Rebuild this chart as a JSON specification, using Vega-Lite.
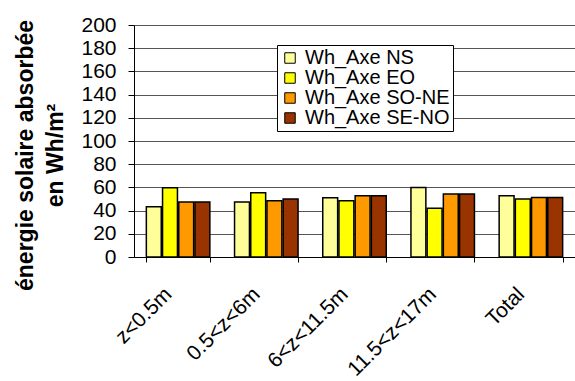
{
  "$schema": "https://vega.github.io/schema/vega-lite/v6.json",
  "width": 441,
  "height": 232,
  "autosize": {"type": "none"},
  "padding": {"left": 134, "top": 25, "right": 0, "bottom": 124},
  "background": "white",
  "config": {
    "font": "Liberation Sans",
    "view": {"stroke": null},
    "axis": {"labelColor": "black", "titleColor": "black", "domainColor": "black", "tickColor": "black"}
  },
  "data": {
    "values": [
      {"zone": "z<0.5m", "serie": "Wh_Axe NS", "value": 43.4},
      {"zone": "z<0.5m", "serie": "Wh_Axe EO", "value": 59.7},
      {"zone": "z<0.5m", "serie": "Wh_Axe SO-NE", "value": 47.4},
      {"zone": "z<0.5m", "serie": "Wh_Axe SE-NO", "value": 47.4},
      {"zone": "0.5<z<6m", "serie": "Wh_Axe NS", "value": 47.4},
      {"zone": "0.5<z<6m", "serie": "Wh_Axe EO", "value": 55.4},
      {"zone": "0.5<z<6m", "serie": "Wh_Axe SO-NE", "value": 48.5},
      {"zone": "0.5<z<6m", "serie": "Wh_Axe SE-NO", "value": 50.0},
      {"zone": "6<z<11.5m", "serie": "Wh_Axe NS", "value": 51.0},
      {"zone": "6<z<11.5m", "serie": "Wh_Axe EO", "value": 48.5},
      {"zone": "6<z<11.5m", "serie": "Wh_Axe SO-NE", "value": 52.8},
      {"zone": "6<z<11.5m", "serie": "Wh_Axe SE-NO", "value": 52.8},
      {"zone": "11.5<z<17m", "serie": "Wh_Axe NS", "value": 60.0},
      {"zone": "11.5<z<17m", "serie": "Wh_Axe EO", "value": 42.0},
      {"zone": "11.5<z<17m", "serie": "Wh_Axe SO-NE", "value": 54.3},
      {"zone": "11.5<z<17m", "serie": "Wh_Axe SE-NO", "value": 54.3},
      {"zone": "Total", "serie": "Wh_Axe NS", "value": 52.7},
      {"zone": "Total", "serie": "Wh_Axe EO", "value": 50.0},
      {"zone": "Total", "serie": "Wh_Axe SO-NE", "value": 51.4},
      {"zone": "Total", "serie": "Wh_Axe SE-NO", "value": 51.4}
    ]
  },
  "mark": {"type": "bar", "stroke": "black", "strokeWidth": 1.5},
  "encoding": {
    "x": {
      "field": "zone",
      "type": "nominal",
      "sort": ["z<0.5m", "0.5<z<6m", "6<z<11.5m", "11.5<z<17m", "Total"],
      "scale": {"paddingInner": 0.28, "paddingOuter": 0.14},
      "axis": {
        "title": null,
        "labelAngle": -45,
        "labelAlign": "right",
        "labelBaseline": "middle",
        "labelFontSize": 21,
        "labelPadding": 29,
        "labelOffset": -10,
        "tickSize": 5,
        "tickBand": "extent",
        "domainWidth": 1,
        "grid": false
      }
    },
    "xOffset": {
      "field": "serie",
      "type": "nominal",
      "sort": ["Wh_Axe NS", "Wh_Axe EO", "Wh_Axe SO-NE", "Wh_Axe SE-NO"],
      "scale": {"paddingInner": 0.08}
    },
    "y": {
      "field": "value",
      "type": "quantitative",
      "scale": {"domain": [0, 200], "nice": false},
      "axis": {
        "values": [0, 20, 40, 60, 80, 100, 120, 140, 160, 180, 200],
        "title": ["énergie solaire absorbée", "en Wh/m²"],
        "titleFontSize": 23,
        "titleFontWeight": "bold",
        "titleLineHeight": 30,
        "titleAngle": -90,
        "titleAlign": "center",
        "titleBaseline": "bottom",
        "titleX": -97,
        "titleY": 130,
        "labelFontSize": 21,
        "labelPadding": 12,
        "tickSize": 6,
        "grid": true,
        "gridColor": "#555555",
        "gridWidth": 1,
        "gridOpacity": 1
      }
    },
    "fill": {
      "field": "serie",
      "type": "nominal",
      "sort": ["Wh_Axe NS", "Wh_Axe EO", "Wh_Axe SO-NE", "Wh_Axe SE-NO"],
      "scale": {
        "domain": ["Wh_Axe NS", "Wh_Axe EO", "Wh_Axe SO-NE", "Wh_Axe SE-NO"],
        "range": ["#FFFF99", "#FFFF00", "#FF9900", "#993300"]
      },
      "legend": {
        "title": null,
        "orient": "none",
        "legendX": 143,
        "legendY": 20,
        "fillColor": "white",
        "strokeColor": "black",
        "padding": 3,
        "rowPadding": -1,
        "labelFontSize": 20,
        "labelColor": "black",
        "labelOffset": 5,
        "symbolType": "square",
        "symbolSize": 110,
        "symbolStrokeColor": "black",
        "symbolStrokeWidth": 1
      }
    }
  }
}
